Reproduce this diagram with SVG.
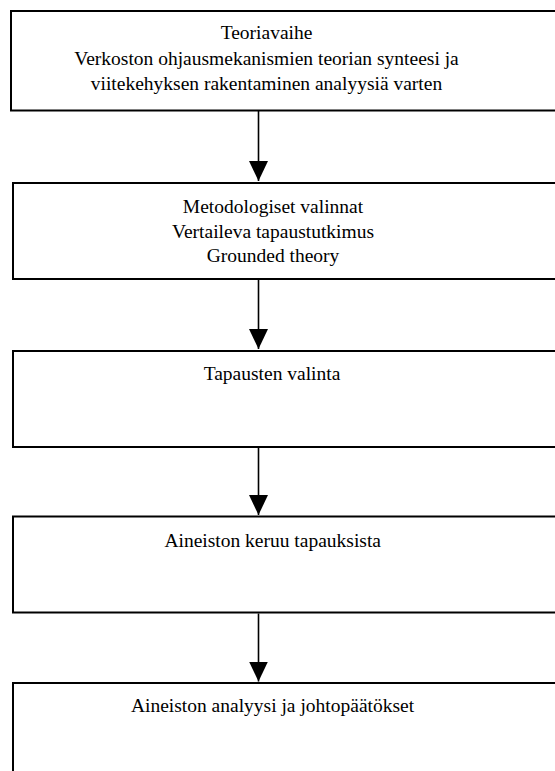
<svg xmlns="http://www.w3.org/2000/svg" width="555" height="771" viewBox="0 0 555 771">
  <style>
    .box { fill: #ffffff; stroke: #000000; stroke-width: 2; }
    text { font-family: "Liberation Serif", "Times New Roman", "DejaVu Serif", serif; font-size: 19.5px; fill: #000000; text-anchor: middle; }
    .flow { stroke: #000000; stroke-width: 1.6; fill: none; marker-end: url(#head); }
  </style>
  <defs>
    <marker id="head" markerUnits="userSpaceOnUse" markerWidth="20" markerHeight="20" refX="20" refY="10" orient="auto" viewBox="0 0 20 20">
      <path d="M0,0.5 L20,10 L0,19.5 Z" fill="#000000"/>
    </marker>
  </defs>
  <rect width="555" height="771" fill="#ffffff"/>

  <g id="theory">
    <rect class="box" x="11" y="11" width="560" height="99.5"/>
    <text x="266.5" y="39">Teoriavaihe</text>
    <text x="266.5" y="64.5">Verkoston ohjausmekanismien teorian synteesi ja</text>
    <text x="266.5" y="89.5">viitekehyksen rakentaminen analyysiä varten</text>
  </g>

  <g id="methods">
    <rect class="box" x="13" y="183" width="560" height="96"/>
    <text x="273" y="213">Metodologiset valinnat</text>
    <text x="273" y="237.5">Vertaileva tapaustutkimus</text>
    <text x="273" y="262">Grounded theory</text>
  </g>

  <g id="cases">
    <rect class="box" x="13" y="351" width="560" height="96"/>
    <text x="272" y="380">Tapausten valinta</text>
  </g>

  <g id="collection">
    <rect class="box" x="13" y="516.5" width="560" height="96"/>
    <text x="272.7" y="546.5">Aineiston keruu tapauksista</text>
  </g>

  <g id="analysis">
    <rect class="box" x="13" y="683" width="560" height="120"/>
    <text x="272.5" y="711.5">Aineiston analyysi ja johtopäätökset</text>
  </g>

  <g id="connectors">
    <line class="flow" x1="258.5" y1="111" x2="258.5" y2="181"/>
    <line class="flow" x1="258.5" y1="280" x2="258.5" y2="349"/>
    <line class="flow" x1="258.5" y1="448" x2="258.5" y2="515"/>
    <line class="flow" x1="258.5" y1="613.5" x2="258.5" y2="681.5"/>
  </g>
</svg>
